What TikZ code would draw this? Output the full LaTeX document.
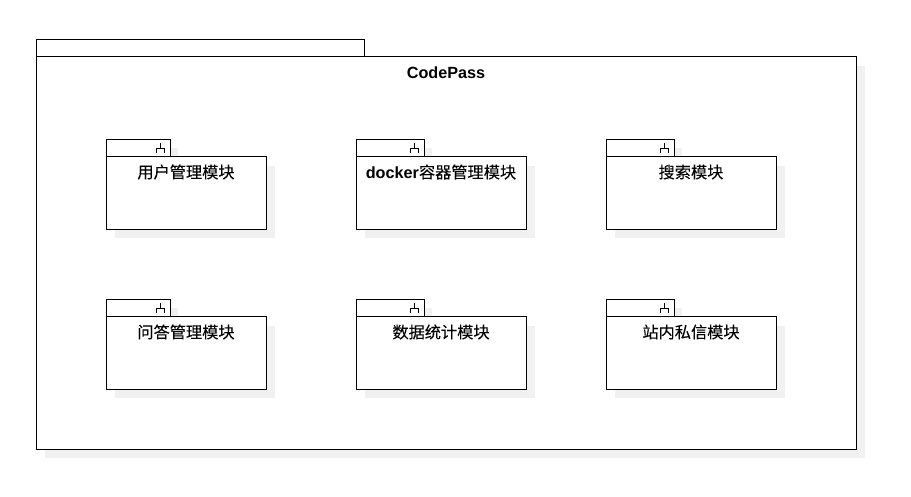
\documentclass[tikz,border=0pt]{standalone}
\usepackage{fontspec}
\setmainfont{Liberation Sans}
\newfontfamily\cjkbase[FakeBold=0.06]{Noto Sans CJK SC}
\newcommand{\cjk}{\mdseries\cjkbase}
\definecolor{shadowgray}{HTML}{F1F1F1}
\tikzset{
  x=1pt,y=-1pt,
  shadowfill/.style={fill=shadowgray,draw=none},
  boxline/.style={draw=black,fill=white,line width=1pt,rectangle,inner sep=0pt,outer sep=0pt,anchor=north west},
  modlabel/.style={font=\fontsize{16.2pt}{18pt}\selectfont\bfseries,text=black,inner sep=0pt,anchor=center},
  iconline/.style={draw=black,line width=0.9pt}
}
% name, x, y, box width, tab width, label
\newcommand{\modpkg}[6]{%
  \fill[shadowfill] (#2+8,#3-9) rectangle (#2+#5+8,#3+9);
  \fill[shadowfill] (#2+9,#3+9) rectangle (#2+#4+9,#3+81);
  \node[boxline,minimum width=#5 pt,minimum height=17pt] (#1tab) at (#2,#3-17) {};
  \node[boxline,minimum width=#4 pt,minimum height=72.7pt] (#1) at (#2,#3) {};
  \node[modlabel] (#1label) at (#2+#4/2,#3+15.5) {#6};
  \draw[iconline] (#2+#5-14,#3-3.5) -- (#2+#5-14,#3-8.5) -- (#2+#5-6,#3-8.5) -- (#2+#5-6,#3-3.5)
    (#2+#5-10,#3-8.5) -- (#2+#5-10,#3-13.5);
}
\begin{document}
\begin{tikzpicture}
\useasboundingbox (0,0) rectangle (911,496);
\fill[shadowfill] (45,66) rectangle (865,458);
\node[boxline,minimum width=328pt,minimum height=17pt] (outertab) at (36,39.5) {};
\node[boxline,minimum width=820pt,minimum height=392.5pt] (outer) at (36,56.5) {};
\node[modlabel] (title) at (446,72.7) {CodePass};
\modpkg{a}{106}{156.5}{160}{64}{\cjk 用户管理模块}
\modpkg{b}{356}{156.5}{170}{68}{docker\cjk 容器管理模块}
\modpkg{c}{606}{156.5}{170}{68}{\cjk 搜索模块}
\modpkg{d}{106}{316.5}{160}{64}{\cjk 问答管理模块}
\modpkg{e}{356}{316.5}{170}{68}{\cjk 数据统计模块}
\modpkg{f}{606}{316.5}{170}{68}{\cjk 站内私信模块}
\end{tikzpicture}
\end{document}
